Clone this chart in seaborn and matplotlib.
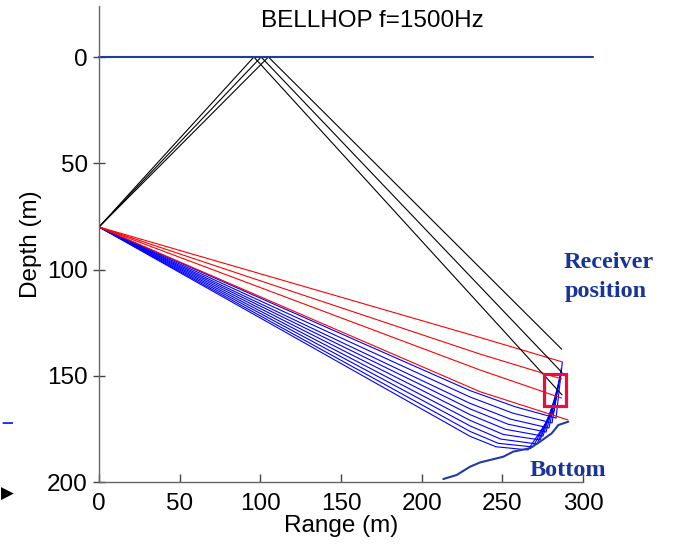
import pandas as pd
import seaborn as sns
import matplotlib.pyplot as plt
from matplotlib.patches import Rectangle

#------------DATA-------------------------------------
# source at range 0, depth 80
src_x = 0
src_d = 80

# black rays: source -> surface bounce -> end
black_x = [[0, 96, 287], [0, 100.5, 287], [0, 105, 286.8]]
black_d = [[80, 0, 159], [80, 0, 148.5], [80, 0, 137.5]]

# red rays (direct paths)
red_x = [[0, 236.2, 286.8], [0, 236.2, 286.8], [0, 236.2, 286.8], [0, 236.2, 290.7]]
red_d = [[80, 132, 143.4], [80, 139.8, 151.5], [80, 147.3, 160.5], [80, 157.5, 170.8]]

# blue rays: source -> mid -> bend -> bottom turn -> end going up
blue_mid_x = 230.0
blue_mid_d = [157.0, 160.0, 163.0, 165.6, 168.3, 171.0, 173.6, 176.2, 178.5]
blue_bend_x = [258.0, 256.5, 255.0, 253.5, 252.0, 250.5, 249.0, 247.5, 246.0]
blue_bend_d = [164.6, 167.6, 170.4, 172.8, 175.2, 177.6, 179.8, 181.8, 183.4]
blue_turn_x = [283.3, 280.8, 278.9, 277.1, 275.2, 273.4, 271.5, 269.0, 265.9]
blue_turn_d = [169.9, 172.2, 174.6, 176.5, 178.4, 180.2, 182.1, 183.5, 184.9]
blue_end_x = [287.2, 286.6, 286.0, 285.4, 284.8, 284.2, 283.6, 283.0, 282.4]
blue_end_d = [143.5, 146.4, 149.2, 152.0, 154.8, 157.6, 160.5, 163.3, 166.1]

# bottom profile
bottom_x = [213.4, 221.7, 230.0, 236.2, 250.6, 256.8, 267.2, 273.4, 280.6, 284.7, 290.9]
bottom_d = [198.6, 196.7, 192.8, 190.8, 188.1, 185.7, 184.1, 181.0, 177.1, 173.2, 171.6]

# surface
surf_x = [0, 306]
surf_d = [0, 0]

# receiver box (range / depth limits)
rx_box = [276, 289.3]
rd_box = [149.1, 164.1]

xticks = [0, 50, 100, 150, 200, 250, 300]
yticks = [0, 50, 100, 150, 200]

#------------BUILD TABLES-------------
def to_long(xs, ds):
    rows = []
    for i, (xr, dr) in enumerate(zip(xs, ds)):
        for j, (a, b) in enumerate(zip(xr, dr)):
            rows.append({"ray": i, "order": j, "range": a, "depth": b})
    return pd.DataFrame(rows)

df_black = to_long(black_x, black_d)
df_red = to_long(red_x, red_d)
blue_x = [[src_x, blue_mid_x, bx, tx, ex] for bx, tx, ex in zip(blue_bend_x, blue_turn_x, blue_end_x)]
blue_d = [[src_d, md, bd, td, ed] for md, bd, td, ed in zip(blue_mid_d, blue_bend_d, blue_turn_d, blue_end_d)]
df_blue = to_long(blue_x, blue_d)

#------------PLOT-------------
sns.set_style("white")
plt.rcParams['font.family'] = ['Liberation Sans', 'DejaVu Sans']
plt.rcParams['text.color'] = 'black'
plt.rcParams['axes.labelcolor'] = 'black'
plt.rcParams['xtick.color'] = 'black'
plt.rcParams['ytick.color'] = 'black'

fig = plt.figure(figsize=(6.73, 5.45), dpi=100)
ax = fig.add_axes([99 / 673, 1 - 482 / 545, 484 / 673, 476 / 545])

line_kw = dict(x="range", y="depth", units="ray", estimator=None, sort=False, ax=ax, legend=False)
sns.lineplot(data=df_blue, color="#0000ff", lw=0.8, **line_kw)
sns.lineplot(data=df_red, color="#ff0000", lw=0.8, **line_kw)
sns.lineplot(data=df_black, color="black", lw=0.8, **line_kw)

ax.plot(surf_x, surf_d, color="#1f3c9e", lw=1.5, clip_on=False)
ax.plot(bottom_x, bottom_d, color="#1f3c9e", lw=1.5)

ax.add_patch(Rectangle((rx_box[0], rd_box[0]), rx_box[1] - rx_box[0], rd_box[1] - rd_box[0],
                       fill=False, edgecolor="#e8103a", lw=2.3, zorder=5))

ax.set_xlim(0, 300)
ax.set_ylim(200, -24)
ax.set_xticks(xticks)
ax.set_yticks(yticks)
ax.tick_params(axis="x", bottom=True, direction="in", length=6, width=1.0,
               labelsize=17.5, pad=8, color="#444444", labelcolor="black")
ax.tick_params(axis="y", left=True, direction="inout", length=8, width=1.0,
               labelsize=17.5, pad=4, color="#444444", labelcolor="black")
ax.set_xlabel("Range (m)", fontsize=17.5, labelpad=0)
ax.set_ylabel("Depth (m)", fontsize=17.5, labelpad=4)
sns.despine(ax=ax)
for s in ["left", "bottom"]:
    ax.spines[s].set_color("#666666")
    ax.spines[s].set_linewidth(1.0)

ax.text(0.564, 0.968, "BELLHOP f=1500Hz", transform=ax.transAxes, ha="center", va="center", fontsize=17.5)

serif = dict(family=["Liberation Serif", "DejaVu Serif"], fontweight="bold", color="#17349a", fontsize=17.5)
fig.text(609 / 673, 1 - 262 / 545, "Receiver", ha="center", va="center", **serif)
fig.text(606 / 673, 1 - 292 / 545, "position", ha="center", va="center", **serif)
fig.text(568 / 673, 1 - 470 / 545, "Bottom", ha="center", va="center", **serif)

# stray marks at the left edge of the original slide
fig.text(0.002, 1 - 423 / 545, "\u2013", color="#2030ff", fontsize=15, fontweight="bold",
         ha="left", va="center")
fig.text(0.002, 1 - 494 / 545, "\u25b6", color="black", fontsize=12, ha="left", va="center")

fig.savefig("out.png", dpi=100)
